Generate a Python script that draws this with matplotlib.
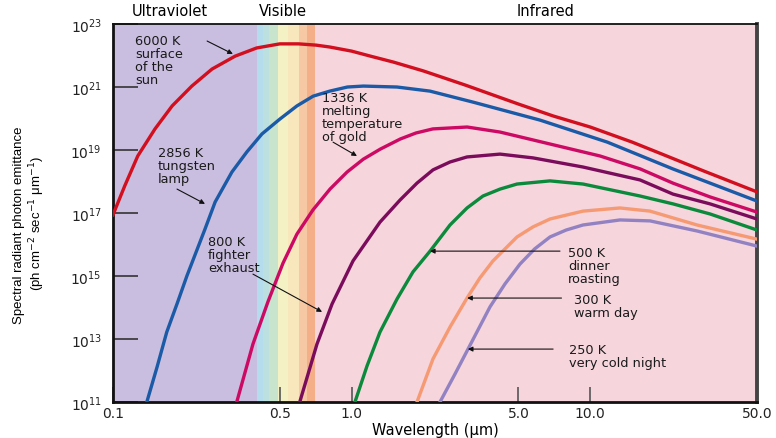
import numpy as np
import matplotlib.pyplot as plt
from matplotlib.ticker import NullLocator

plt.rcParams['font.family'] = ['DejaVu Sans']
plt.rcParams['mathtext.fontset'] = 'dejavusans'

# wavelengths (um) and log10 of photon emittance
wl_6000 = [0.1, 0.112, 0.127, 0.15, 0.177, 0.214, 0.26, 0.325, 0.40, 0.50, 0.60, 0.71, 0.81, 1.0, 1.2, 1.5, 2.0, 3.0, 5.0, 7.0, 10, 15, 20, 30, 50]
lg_6000 = [16.94, 17.86, 18.81, 19.67, 20.40, 21.03, 21.57, 21.98, 22.24, 22.37, 22.37, 22.33, 22.27, 22.14, 21.98, 21.79, 21.51, 21.06, 20.46, 20.08, 19.73, 19.25, 18.87, 18.33, 17.67]

wl_2856 = [0.139, 0.153, 0.168, 0.186, 0.204, 0.243, 0.268, 0.315, 0.364, 0.421, 0.50, 0.59, 0.69, 0.81, 0.96, 1.12, 1.55, 2.13, 3.23, 6.16, 11.8, 22.2, 50]
lg_2856 = [11.03, 12.11, 13.22, 14.14, 15.0, 16.49, 17.35, 18.30, 18.94, 19.51, 19.98, 20.40, 20.71, 20.87, 21.0, 21.03, 21.0, 20.87, 20.52, 19.95, 19.25, 18.40, 17.38]

wl_1336 = [0.331, 0.386, 0.446, 0.516, 0.590, 0.689, 0.812, 0.957, 1.12, 1.32, 1.60, 1.86, 2.19, 3.05, 4.19, 6.79, 11.0, 16.2, 22.2, 31.8, 50]
lg_1336 = [11.03, 12.84, 14.18, 15.41, 16.33, 17.10, 17.76, 18.30, 18.71, 19.03, 19.35, 19.54, 19.67, 19.73, 19.57, 19.19, 18.81, 18.40, 17.95, 17.51, 17.03]

wl_800 = [0.608, 0.716, 0.828, 1.014, 1.315, 1.595, 1.88, 2.194, 2.585, 3.046, 4.188, 5.759, 9.329, 16.17, 22.23, 31.78, 50]
lg_800 = [11.03, 12.84, 14.11, 15.48, 16.71, 17.41, 17.95, 18.37, 18.62, 18.78, 18.87, 18.75, 18.46, 18.05, 17.60, 17.29, 16.81]

wl_500 = [1.033, 1.160, 1.315, 1.550, 1.808, 2.132, 2.585, 3.046, 3.554, 4.19, 4.934, 6.785, 9.329, 16.17, 22.23, 31.78, 50]
lg_500 = [11.0, 12.14, 13.22, 14.27, 15.13, 15.79, 16.62, 17.16, 17.54, 17.76, 17.92, 18.02, 17.92, 17.54, 17.29, 16.97, 16.46]

wl_300 = [1.880, 2.194, 2.585, 3.046, 3.45, 3.914, 4.934, 5.76, 6.785, 9.329, 13.33, 17.81, 28.03, 50]
lg_300 = [11.0, 12.37, 13.38, 14.30, 14.94, 15.48, 16.24, 16.56, 16.81, 17.06, 17.16, 17.06, 16.62, 16.17]

wl_250 = [2.347, 2.713, 3.075, 3.802, 4.395, 5.079, 5.85, 6.785, 7.93, 9.329, 13.33, 17.81, 28.03, 50]
lg_250 = [11.0, 11.89, 12.68, 14.02, 14.75, 15.38, 15.86, 16.24, 16.46, 16.62, 16.78, 16.75, 16.43, 15.95]

curves = [
    (wl_6000, lg_6000, '#d20f1e'),
    (wl_2856, lg_2856, '#1b5aa6'),
    (wl_1336, lg_1336, '#cc0a64'),
    (wl_800, lg_800, '#7b0c5c'),
    (wl_500, lg_500, '#0b8a3c'),
    (wl_300, lg_300, '#f59a72'),
    (wl_250, lg_250, '#9282c2'),
]

# visible band stripes
vis_edges = [0.4, 0.425, 0.45, 0.49, 0.54, 0.6, 0.65, 0.7]
vis_colors = ['#b4dcec', '#bcdfe0', '#c8e4cc', '#f4f2c4', '#f8e6bc', '#f6c8a4', '#f4ae88']

y_ticks = [11, 13, 15, 17, 19, 21, 23]
x_ticks = [0.1, 0.5, 1.0, 5.0, 10.0, 50.0]
x_tick_labels = ['0.1', '0.5', '1.0', '5.0', '10.0', '50.0']

# label text, position (wavelength, log10) and arrow (tail -> head)
labels = [
    ('6000 K\nsurface\nof the\nsun', 0.1236, 22.68, (0.248, 22.46), (0.318, 22.05)),
    ('2856 K\ntungsten\nlamp', 0.1544, 19.13, (0.1855, 17.76), (0.243, 17.29)),
    ('1336 K\nmelting\ntemperature\nof gold', 0.752, 20.87, (0.836, 19.25), (1.053, 18.81)),
    ('800 K\nfighter\nexhaust', 0.2503, 16.30, (0.386, 15.06), (0.752, 13.86)),
    ('500 K\ndinner\nroasting', 8.07, 15.95, (7.47, 15.79), (2.13, 15.79)),
    ('300 K\nwarm day', 8.52, 14.46, (7.58, 14.30), (3.05, 14.30)),
    ('250 K\nvery cold night', 8.13, 12.87, (6.99, 12.68), (3.07, 12.68)),
]

fig = plt.figure(figsize=(7.76, 4.39), dpi=100)
ax = fig.add_axes([0.1456, 0.082, 0.8299, 0.861])
ax.set_xscale('log')
ax.set_yscale('log')
ax.set_xlim(0.1, 50)
ax.set_ylim(1e11, 1e23)

ax.axvspan(0.1, 0.4, color='#c9bedf', lw=0, zorder=0)
ax.axvspan(0.7, 50, color='#f6d5dd', lw=0, zorder=0)
for i in range(len(vis_colors)):
    ax.axvspan(vis_edges[i], vis_edges[i + 1], color=vis_colors[i], lw=0, zorder=0)

for wl, lg, col in curves:
    ax.plot(wl, 10.0 ** np.array(lg), color=col, lw=2.4, solid_joinstyle='round', zorder=3)

# ticks
ax.xaxis.set_minor_locator(NullLocator())
ax.yaxis.set_minor_locator(NullLocator())
ax.set_yticks([10.0 ** t for t in y_ticks])
ax.set_yticklabels(['$10^{%d}$' % t for t in y_ticks], fontsize=10, color='#222222')
ax.set_xticks(x_ticks)
ax.set_xticklabels(x_tick_labels, fontsize=10, color='#222222')
ax.tick_params(axis='y', direction='in', length=18, width=1.2, color='#333333', pad=8)
ax.tick_params(axis='x', direction='in', length=11, width=1.2, color='#555555', pad=3)

for side in ['left', 'bottom']:
    ax.spines[side].set_linewidth(2)
    ax.spines[side].set_color('#111111')
ax.spines['top'].set_linewidth(1.3)
ax.spines['top'].set_color('#111111')
ax.spines['right'].set_linewidth(2.8)
ax.spines['right'].set_color('#444444')

# region names above the plot
trans = ax.get_xaxis_transform()
ax.text(0.173, 1.016, 'Ultraviolet', transform=trans, ha='center', va='bottom', fontsize=10.5)
ax.text(0.515, 1.016, 'Visible', transform=trans, ha='center', va='bottom', fontsize=10.5)
ax.text(6.5, 1.016, 'Infrared', transform=trans, ha='center', va='bottom', fontsize=10.5)

ax.set_xlabel('Wavelength (μm)', fontsize=10.5, labelpad=1)
fig.text(0.024, 0.487, 'Spectral radiant photon emittance', rotation=90, ha='center', va='center',
         fontsize=9.5, family='Liberation Sans')
fig.text(0.048, 0.49, '(ph cm$^{-2}$ sec$^{-1}$ μm$^{-1}$)', rotation=90, ha='center', va='center',
         fontsize=9.5, family='Liberation Sans')

# annotations
arrow = dict(arrowstyle='-|>', color='#111111', lw=0.8, mutation_scale=7, shrinkA=0, shrinkB=0)
for txt, lx, ly, tail, head in labels:
    ax.text(lx, 10 ** ly, txt, fontsize=9.3, va='top', ha='left', linespacing=1.0, color='#1a1a1a')
    ax.annotate('', xy=(head[0], 10 ** head[1]), xytext=(tail[0], 10 ** tail[1]), arrowprops=arrow)

fig.savefig('out.png', dpi=100)
